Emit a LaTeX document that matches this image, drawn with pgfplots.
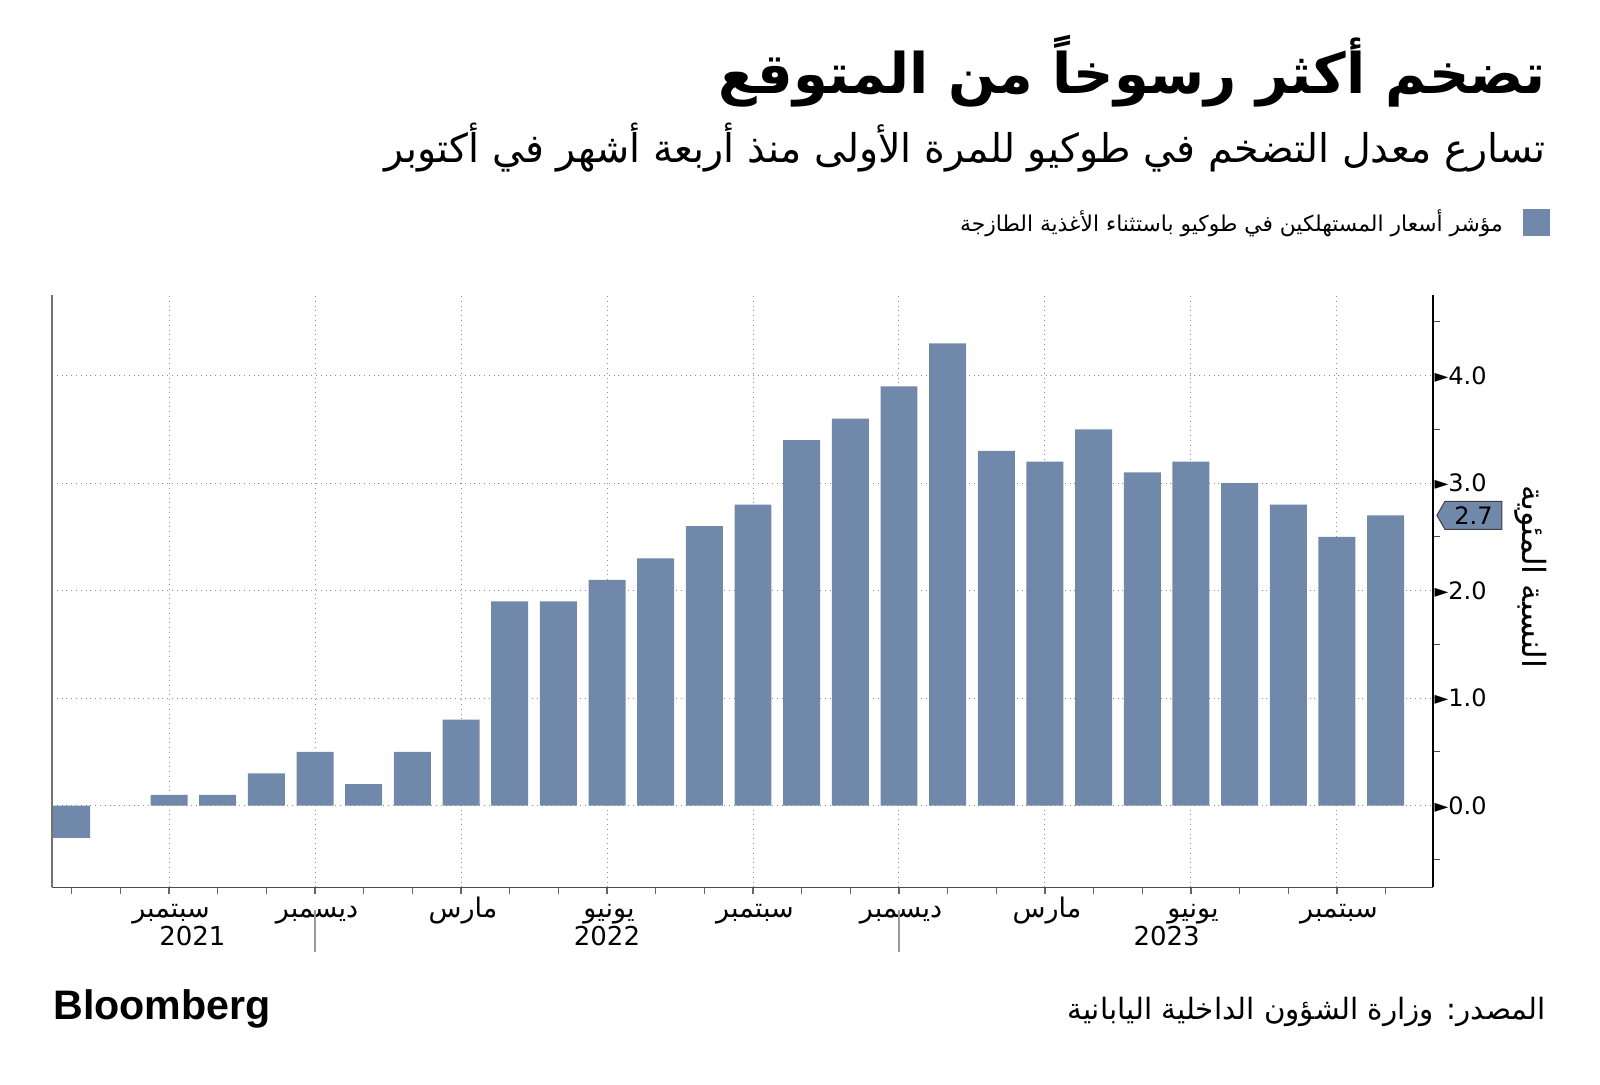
\documentclass[border=0pt]{standalone}
\usepackage{fontspec}
\usepackage{pgfplots}
\usepackage{pgfplotstable}
\pgfplotsset{compat=1.18}
\usetikzlibrary{shapes.symbols}
\setmainfont{DejaVu Sans}
\newfontfamily\arabicfont[Script=Arabic]{DejaVu Sans}
\newfontfamily\logofont{Liberation Sans}
\TeXXeTstate=1
\newcommand\ar[1]{{\arabicfont\beginR #1\endR}}
\definecolor{barcol}{RGB}{112,137,171}

% Tokyo core CPI, y/y %, Jul 2021 (0) .. Oct 2023 (27)
\pgfplotstableread{
x y
0 -0.3
1 0.0
2 0.1
3 0.1
4 0.3
5 0.5
6 0.2
7 0.5
8 0.8
9 1.9
10 1.9
11 2.1
12 2.3
13 2.6
14 2.8
15 3.4
16 3.6
17 3.9
18 4.3
19 3.3
20 3.2
21 3.5
22 3.1
23 3.2
24 3.0
25 2.8
26 2.5
27 2.7
}\cpi

\begin{document}
\begin{tikzpicture}[x=1pt,y=1pt]
\useasboundingbox (0,0) rectangle (800,542.5);

% titles
\node[anchor=base east, inner sep=0pt] at (773,495.5)
  {\fontsize{28}{30}\selectfont\arabicfont\bfseries\beginR تضخم أكثر رسوخاً من المتوقع\endR};
\node[anchor=base east, inner sep=0pt] at (773,461)
  {\fontsize{19.8}{22}\selectfont\ar{تسارع معدل التضخم في طوكيو للمرة الأولى منذ أربعة أشهر في أكتوبر}};

\begin{axis}[
  at={(26pt,98.85pt)}, anchor=south west,
  scale only axis, width=690.65pt, height=296.15pt,
  clip=false,
  xmin=-0.405, xmax=27.98, ymin=-0.76, ymax=4.75,
  axis x line*=bottom, axis y line*=right,
  axis line style={-},
  x axis line style={draw=black!70},
  y axis line style={draw=black, line width=1pt},
  tick align=outside,
  major tick length=3.4pt, minor tick length=3.4pt,
  xtick={2,5,8,11,14,17,20,23,26},
  xticklabels={\ar{سبتمبر},\ar{ديسمبر},\ar{مارس},\ar{يونيو},\ar{سبتمبر},\ar{ديسمبر},\ar{مارس},\ar{يونيو},\ar{سبتمبر}},
  minor xtick={0,...,28},
  x tick style={black!60, line width=0.6pt},
  xticklabel style={font=\fontsize{13.5}{13.5}\selectfont, text height=11pt, text depth=3pt,
    yshift=3pt, xshift=1pt},
  ytick={0,1,2,3,4},
  minor ytick={-0.5,0.5,1.5,2.5,3.5,4.5},
  y tick style={black!70, line width=0.6pt},
  major y tick style={draw=none},
  yticklabel={{\fontsize{9}{9}\selectfont\raisebox{0.12em}{►}}\pgfmathprintnumber[fixed,fixed zerofill,precision=1]{\tick}},
  yticklabel style={font=\fontsize{12}{12}\selectfont, anchor=west, inner sep=0pt, xshift=-3pt},
  /pgf/number format/assume math mode=true,
  xmajorgrids, ymajorgrids,
  grid style={dotted, black!45, line width=0.5pt},
  legend plot pos=right,
  legend style={at={(rel axis cs:1.0846,1.151)}, anchor=north east, draw=none, fill=none,
    inner sep=0pt, font=\fontsize{10.9}{11}\selectfont},
  legend cell align=right,
  legend image code/.code={\fill[barcol] (0pt,-6.8pt) rectangle (13.5pt,6.8pt);},
]
\addplot[ybar, bar width=0.76, fill=barcol, draw=none] table[x=x, y=y] {\cpi};
\addlegendentry{\ar{مؤشر أسعار المستهلكين في طوكيو باستثناء الأغذية الطازجة}\kern8pt}

% years and separators
\node[font=\fontsize{13}{13}\selectfont, yshift=-24.5pt] at (axis cs:2.48,-0.76) {2021};
\node[font=\fontsize{13}{13}\selectfont, yshift=-24.5pt] at (axis cs:11,-0.76) {2022};
\node[font=\fontsize{13}{13}\selectfont, yshift=-24.5pt] at (axis cs:22.5,-0.76) {2023};
\draw[black!40, line width=0.6pt] (axis cs:5,-0.76) ++(0pt,-11.5pt) -- ++(0pt,-21pt);
\draw[black!40, line width=0.6pt] (axis cs:17,-0.76) ++(0pt,-11.5pt) -- ++(0pt,-21pt);
% left frame line
\draw[black!55, line width=0.6pt] (rel axis cs:0,0) -- (rel axis cs:0,1);
% last value callout
\node[signal, signal to=west, signal pointer angle=120, fill=barcol, draw=black!75,
  line width=0.5pt, anchor=west, minimum width=32.5pt, minimum height=14pt, inner sep=1pt,
  font=\fontsize{12}{12}\selectfont, xshift=1.5pt] at (axis cs:27.98,2.7) {2.7};
\end{axis}

% y label
\node[rotate=-90, font=\fontsize{16}{16}\selectfont] at (765.5,254) {\ar{النسبة المئوية}};

% footer
\node[anchor=base west, inner sep=0pt] at (26.5,32.5)
  {\resizebox{108.7pt}{!}{\logofont\bfseries Bloomberg}};
\node[anchor=base east, inner sep=0pt] at (773,32.5)
  {\fontsize{14.7}{15}\selectfont\ar{المصدر: وزارة الشؤون الداخلية اليابانية}};
\end{tikzpicture}
\end{document}
